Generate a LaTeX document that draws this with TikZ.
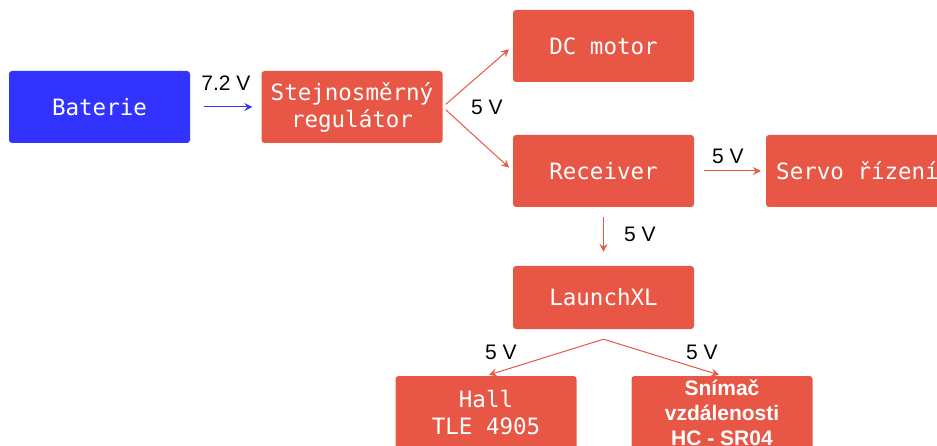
\documentclass[tikz,border=0pt]{standalone}
\usepackage{fontspec}
\setmainfont{Liberation Sans}
\newfontfamily\monofont{DejaVu Sans Mono}
\usetikzlibrary{arrows.meta}
\definecolor{boxred}{RGB}{232,87,70}
\definecolor{boxblue}{RGB}{51,51,255}
\tikzset{
  blockbox/.style={fill=boxred, rounded corners=3pt, inner sep=0pt,
    minimum width=181pt, minimum height=72pt, text=white,
    font=\monofont\fontsize{22.5}{27}\selectfont, align=center},
  powerline/.style={draw=boxred, line width=1pt,
    -{Stealth[length=8pt,width=8pt,inset=3pt]}},
  voltlabel/.style={font=\fontsize{21}{24}\selectfont, text=black, inner sep=0pt}
}
\begin{document}
\begin{tikzpicture}[x=1pt,y=-1pt]
\useasboundingbox (0,0) rectangle (937,446);
\clip (0,0) rectangle (937,446);
% blocks
\node[blockbox, fill=boxblue] (bat) at (99.5,107) {Baterie};
\node[blockbox] (reg) at (352,107) {Stejnosměrný\\regulátor};
\node[blockbox] (dc) at (603.5,46) {DC motor};
\node[blockbox] (rec) at (603.5,171) {Receiver};
\node[blockbox, minimum width=183pt] (servo) at (857.5,171) {Servo řízení};
\node[blockbox, minimum height=63pt] (lxl) at (603.5,297.5) {LaunchXL};
\node[blockbox, minimum height=73pt] (hall) at (486,412.5) {Hall\\TLE 4905};
\node[blockbox, minimum height=73pt,
  font=\bfseries\fontsize{21}{25}\selectfont] (sonar) at (722,412.5)
  {Snímač\\vzdálenosti\\HC - SR04};
% connectors
\draw[powerline, draw=boxblue, shorten <=14pt, shorten >=9pt] (bat.east) -- (reg.west);
\draw[powerline, shorten <=4pt, shorten >=5pt] (reg.east) -- (dc.west);
\draw[powerline, shorten <=4pt, shorten >=5pt] (reg.east) -- (rec.west);
\draw[powerline, shorten <=10pt, shorten >=5pt] (rec.east) -- (servo.west);
\draw[powerline, shorten <=10pt, shorten >=14pt] (rec.south) -- (lxl.north);
\coordinate (split) at ([yshift=-10pt]lxl.south);
\draw[powerline, shorten >=3pt] (split) -- (hall.north);
\draw[powerline, shorten >=3pt] (split) -- (sonar.north);
% voltage labels
\node[voltlabel] (v1) at (226,83) {7.2 V};
\node[voltlabel] (v2) at (487,107) {5 V};
\node[voltlabel] (v3) at (728,156) {5 V};
\node[voltlabel] (v4) at (640,234) {5 V};
\node[voltlabel] (v5) at (501,352) {5 V};
\node[voltlabel] (v6) at (702,352) {5 V};
\end{tikzpicture}
\end{document}
